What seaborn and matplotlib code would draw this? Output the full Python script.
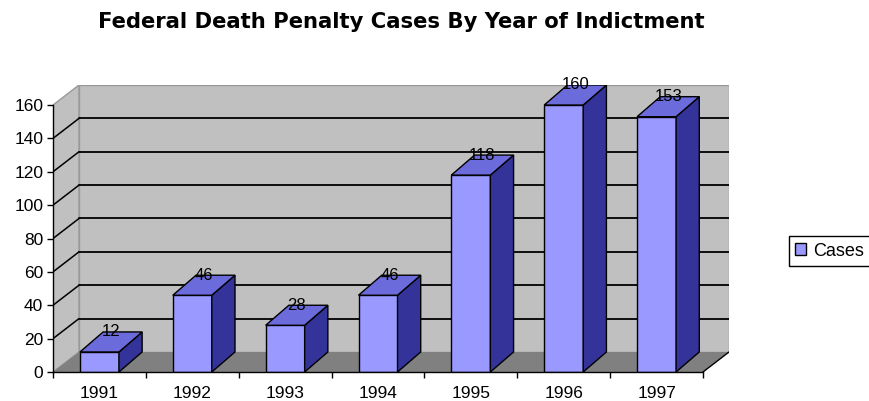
import matplotlib
matplotlib.use("Agg")
import matplotlib.pyplot as plt
import seaborn as sns
import pandas as pd
from matplotlib.patches import Polygon, Patch

# Data
years = ["1991", "1992", "1993", "1994", "1995", "1996", "1997"]
cases = [12, 46, 28, 46, 118, 160, 153]
y_ticks = [0, 20, 40, 60, 80, 100, 120, 140, 160]
title = "Federal Death Penalty Cases By Year of Indictment"

# Styling
FRONT = "#9999FF"
SIDE = "#333399"
TOP = "#6B6BDB"
WALL = "#C0C0C0"
FLOOR = "#808080"

# Pseudo-3D depth offsets (category units, value units)
WALL_DX, WALL_DY = 0.28, 12
BAR_DX, BAR_DY = 0.25, 12
BAR_W = 0.42

sns.set_theme(style="white")
plt.rcParams["font.family"] = ["Liberation Sans", "DejaVu Sans"]
plt.rcParams["text.color"] = "black"
plt.rcParams["xtick.color"] = "black"
plt.rcParams["ytick.color"] = "black"
plt.rcParams["xtick.labelcolor"] = "black"
plt.rcParams["ytick.labelcolor"] = "black"

fig = plt.figure(figsize=(8.69, 4.01), dpi=100)
ax = fig.add_axes([53 / 869, 1 - 372 / 401, (729 - 53) / 869, (372 - 85) / 401])

df = pd.DataFrame({"Year": years, "Cases": cases})
sns.barplot(data=df, x="Year", y="Cases", color=FRONT, saturation=1,
            width=BAR_W, edgecolor="black", linewidth=1, ax=ax, zorder=3)
bars = list(ax.patches)

n = len(years)
x_lo, x_hi = -0.5, n - 0.5
ymax = y_ticks[-1]

# Back wall, side wall and floor
ax.add_patch(Polygon([(x_lo + WALL_DX, WALL_DY), (x_hi + WALL_DX, WALL_DY),
                      (x_hi + WALL_DX, ymax + WALL_DY), (x_lo + WALL_DX, ymax + WALL_DY)],
                     closed=True, fc=WALL, ec="#999999", lw=1, zorder=0))
ax.add_patch(Polygon([(x_lo, 0), (x_lo + WALL_DX, WALL_DY),
                      (x_lo + WALL_DX, ymax + WALL_DY), (x_lo, ymax)],
                     closed=True, fc=WALL, ec="#999999", lw=1, zorder=0))
ax.add_patch(Polygon([(x_lo, 0), (x_hi, 0), (x_hi + WALL_DX, WALL_DY), (x_lo + WALL_DX, WALL_DY)],
                     closed=True, fc=FLOOR, ec="none", zorder=1))
ax.plot([x_hi, x_hi + WALL_DX], [0, WALL_DY], color="black", lw=1, zorder=2)

# Gridlines on side wall and back wall
for v in y_ticks[1:-1]:
    ax.plot([x_lo, x_lo + WALL_DX], [v, v + WALL_DY], color="black", lw=1.1, zorder=1)
    ax.plot([x_lo + WALL_DX, x_hi + WALL_DX], [v + WALL_DY, v + WALL_DY],
            color="black", lw=1.3, zorder=1)

# Side and top faces of each bar, plus value labels
for p, v in zip(bars, cases):
    x0, w, h = p.get_x(), p.get_width(), p.get_height()
    ax.add_patch(Polygon([(x0 + w, 0), (x0 + w + BAR_DX, BAR_DY),
                          (x0 + w + BAR_DX, h + BAR_DY), (x0 + w, h)],
                         closed=True, fc=SIDE, ec="black", lw=1, zorder=3))
    ax.add_patch(Polygon([(x0, h), (x0 + w, h), (x0 + w + BAR_DX, h + BAR_DY),
                          (x0 + BAR_DX, h + BAR_DY)],
                         closed=True, fc=TOP, ec="black", lw=1, zorder=3))
    ax.text(x0 + w / 2 + BAR_DX / 2, h + BAR_DY, str(v), ha="center", va="center",
            fontsize=12, color="black", zorder=5, clip_on=False)

# Axes
ax.set_xlim(x_lo, x_hi + WALL_DX)
ax.set_ylim(0, ymax + WALL_DY)
for s in ("top", "right"):
    ax.spines[s].set_visible(False)
ax.spines["left"].set_bounds(0, ymax)
ax.spines["bottom"].set_bounds(x_lo, x_hi)
for s in ("left", "bottom"):
    ax.spines[s].set_color("black")
    ax.spines[s].set_linewidth(1)
    ax.spines[s].set_zorder(4)

ax.set_yticks(y_ticks)
ax.set_yticklabels([str(t) for t in y_ticks])
ax.set_xticks(range(n))
ax.set_xticklabels(years)
ax.set_xticks([i - 0.5 for i in range(n + 1)], minor=True)
ax.tick_params(axis="y", which="major", length=4, width=1, color="black",
               direction="out", pad=3, labelsize=12.5, left=True, labelcolor="black")
ax.tick_params(axis="x", which="major", length=0, pad=10, labelsize=12.5,
               labelcolor="black")
ax.tick_params(axis="x", which="minor", length=4, width=1, color="black",
               direction="out", bottom=True)
ax.set_xlabel("")
ax.set_ylabel("")
ax.grid(False)

# Title
fig.text(401 / 869, 1 - 22 / 401, title, ha="center", va="center",
         fontsize=15.2, fontweight="bold", color="black", family=["DejaVu Sans"])

# Legend
leg = fig.legend(handles=[Patch(fc=FRONT, ec="black", lw=1, label="Cases")],
                 loc="center left", bbox_to_anchor=(789 / 869, 1 - 251 / 401),
                 frameon=True, fancybox=False, edgecolor="black", framealpha=1,
                 handlelength=0.6, handleheight=0.6, handletextpad=0.4,
                 borderpad=0.35, borderaxespad=0, fontsize=13, labelcolor="black")
leg.get_frame().set_linewidth(1)

fig.savefig("out.png", dpi=100)
